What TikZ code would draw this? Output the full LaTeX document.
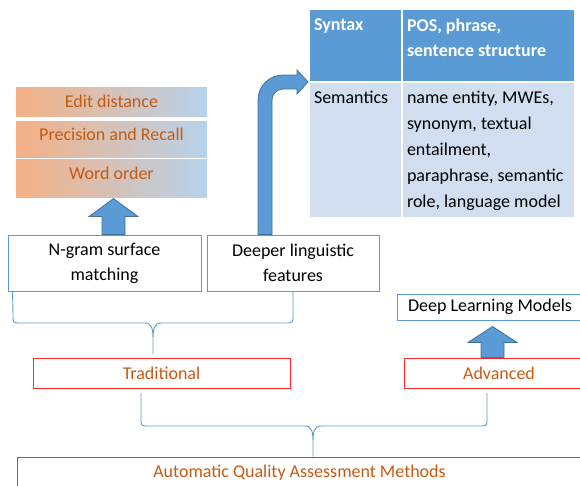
\documentclass[tikz,border=0pt]{standalone}
\usepackage{fontspec}
\setmainfont{Carlito}
\usepackage{tikz}

\definecolor{boxblue}{RGB}{91,155,213}
\definecolor{boxred}{RGB}{255,40,40}
\definecolor{txtorange}{RGB}{197,90,17}
\definecolor{gradorange}{RGB}{244,176,132}
\definecolor{gradblue}{RGB}{183,210,236}
\definecolor{tblhead}{RGB}{91,155,213}
\definecolor{tblbody}{RGB}{208,222,239}
\definecolor{arrowfill}{RGB}{91,155,213}
\definecolor{arrowline}{RGB}{65,113,156}

\begin{document}
\begin{tikzpicture}[x=1pt, y=-1pt,
  every node/.style={font=\fontsize{18}{25}\selectfont, inner sep=0pt},
  bluebox/.style={draw=boxblue, line width=0.9pt, fill=white, align=center},
  redbox/.style={draw=boxred, line width=1pt, text=txtorange},
  gradbox/.style={left color=gradorange, right color=gradblue, text=txtorange, minimum width=191pt},
  hdcell/.style={fill=tblhead, minimum width=#1, minimum height=71pt},
  bdcell/.style={fill=tblbody, minimum width=#1, minimum height=134pt},
  hdtext/.style={anchor=north west, align=left, text=white, font=\fontsize{18}{25}\selectfont\bfseries},
  bdtext/.style={anchor=north west, align=left, font=\fontsize{18}{26}\selectfont},
  blkarrow/.style={fill=arrowfill, draw=arrowline, line width=0.8pt},
  brace/.style={draw=boxblue, line width=0.9pt}]
  \useasboundingbox (0,0) rectangle (580,485);

  \node [gradbox, minimum height=29pt] (edit) at (111.5,101.5) {Edit distance};
  \node [gradbox, minimum height=36pt, text height=12pt, text depth=9pt] (prec) at (111.5,139) {Precision and Recall};
  \node [gradbox, minimum height=38pt, text height=12pt, text depth=9pt] (word) at (111.5,178) {Word order};

  \node [hdcell=91pt] (syn) at (355.5,45.5) {};
  \node [hdcell=171pt] (synval) at (488.5,45.5) {};
  \node [bdcell=91pt] (sem) at (355.5,150) {};
  \node [bdcell=171pt] (semval) at (488.5,150) {};
  \node [hdtext] at ([xshift=4pt, yshift=-8.5pt]syn.north west) {Syntax};
  \node [hdtext] at ([xshift=4pt, yshift=-8.5pt]synval.north west) {POS, phrase,\\sentence structure};
  \node [bdtext] at ([xshift=4pt, yshift=-8.5pt]sem.north west) {Semantics};
  \node [bdtext] at ([xshift=4pt, yshift=-8.5pt]semval.north west)
    {name entity, MWEs,\\synonym, textual\\entailment,\\paraphrase, semantic\\role, language model};

  \node [bluebox, minimum width=193pt, minimum height=56pt] (ngram) at (104.5,263) {N-gram surface\\matching};
  \node [bluebox, minimum width=172pt, minimum height=56pt] (deeper) at (293,263) {Deeper linguistic\\features};
  \node [bluebox, minimum width=186pt, minimum height=26pt] (dlm) at (490,307) {Deep Learning Models};
  \node [redbox, minimum width=257pt, minimum height=30pt] (trad) at (161.5,373) {Traditional};
  \node [redbox, minimum width=190pt, minimum height=30pt] (adv) at (499,373) {Advanced};
  \node [redbox, minimum width=565pt, minimum height=31pt] (aqam) at (299.5,472.5) {Automatic Quality Assessment Methods};

  \coordinate (uptip) at (153,354);
  \coordinate (lowl) at (141,393);
  \coordinate (lowr) at (487,393);

  \filldraw [blkarrow] ([xshift=-2.5pt]ngram.north) -- ++(0,-18) -- ++(-13,0) -- ++(24.5,-18)
    -- ++(24.5,18) -- ++(-13,0) -- ++(0,18) -- cycle;
  \filldraw [blkarrow] ([xshift=-18pt]adv.north) -- ++(0,-15) -- ++(-13,0) -- ++(24.5,-16)
    -- ++(24.5,16) -- ++(-13,0) -- ++(0,15) -- cycle;
  \filldraw [blkarrow] ([xshift=-35pt]deeper.north) -- (258,100) .. controls (258,86.2) and (269.2,75) .. (283,75)
    -- (297,75) -- (297,70) -- (308,82) -- (297,94) -- (297,89) -- (283,89)
    .. controls (276.9,89) and (272,93.9) .. (272,100) -- ([xshift=-21pt]deeper.north) -- cycle;

  \draw [brace] ([xshift=5pt]ngram.south west) -- (13,315) .. controls (13,323) .. (21,323) -- (145,323)
    .. controls (152,323) and (153,329) .. (153,340) -- (uptip) -- (153,340)
    .. controls (153,329) and (154,323) .. (161,323) -- (285,323) .. controls (293,323) .. (293,315) -- (deeper.south);
  \draw [brace] (lowl) -- (141,418) .. controls (141,426) .. (149,426) -- (305,426)
    .. controls (312,426) and (313,432) .. (313,443) -- ([xshift=13.5pt]aqam.north) -- (313,443)
    .. controls (313,432) and (314,426) .. (321,426) -- (479,426) .. controls (487,426) .. (487,418) -- (lowr);
\end{tikzpicture}
\end{document}
